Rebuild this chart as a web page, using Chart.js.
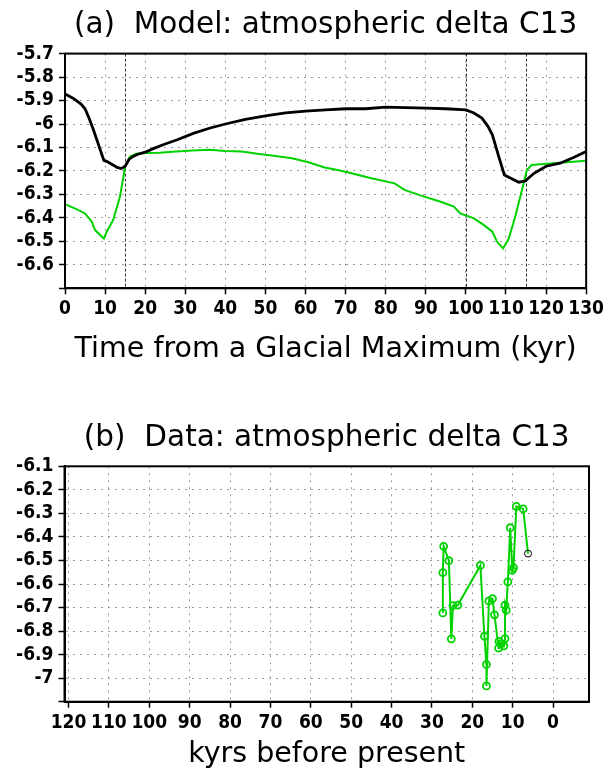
<!DOCTYPE html>
<html>
<head>
<meta charset="utf-8">
<script src="https://cdn.jsdelivr.net/npm/chart.js"></script>
<style>
  body { margin: 0; background: #fff; }
  .box { position: relative; width: 607px; height: 387px; }
</style>
</head>
<body>
<div class="box"><canvas id="modelChart"></canvas></div>
<div class="box"><canvas id="dataChart"></canvas></div>
<script>
// (a) model, time from a glacial maximum (kyr)
const blackTime = [0, 2, 4, 5, 6, 7, 8, 9, 9.7, 10.5, 12, 13, 14, 15, 16, 17, 18, 20, 22, 25, 28, 32, 36, 40, 45, 50, 55, 60, 65, 70, 75, 80, 85, 90, 95, 100, 102, 104, 105.5, 106.6, 108.2, 109.6, 110.7, 113.2, 114.8, 116, 117, 120, 123.5, 127, 130];
const blackDelta = [-5.872, -5.89, -5.915, -5.935, -5.975, -6.02, -6.07, -6.12, -6.155, -6.16, -6.175, -6.185, -6.19, -6.18, -6.15, -6.138, -6.13, -6.12, -6.105, -6.085, -6.067, -6.04, -6.018, -6.0, -5.98, -5.965, -5.953, -5.945, -5.94, -5.935, -5.935, -5.928, -5.93, -5.932, -5.935, -5.94, -5.953, -5.975, -6.01, -6.046, -6.139, -6.217, -6.227, -6.248, -6.243, -6.225, -6.21, -6.18, -6.167, -6.142, -6.117];
const greenTime = [0, 3, 5, 6.7, 7.5, 9.2, 9.7, 10.4, 12, 13.7, 15, 16.2, 17.8, 20.3, 23.6, 27.7, 31.8, 36, 40, 44, 48, 52.5, 56.6, 60.7, 64.8, 68, 70.7, 76.4, 82.2, 84.7, 88.8, 93.7, 97, 98.6, 102, 104.5, 106.6, 107.8, 109.3, 110.7, 112.3, 114, 115.2, 116.4, 119.3, 123.5, 130];
const greenDelta = [-6.342, -6.364, -6.381, -6.417, -6.452, -6.48, -6.488, -6.459, -6.41, -6.31, -6.182, -6.139, -6.127, -6.124, -6.122, -6.117, -6.113, -6.11, -6.115, -6.117, -6.127, -6.136, -6.146, -6.163, -6.185, -6.196, -6.207, -6.231, -6.253, -6.281, -6.305, -6.331, -6.352, -6.381, -6.402, -6.431, -6.459, -6.502, -6.53, -6.488, -6.395, -6.281, -6.196, -6.175, -6.17, -6.165, -6.157];
const eventTimes = [15, 100, 115];
const modelTimeTicks = [0, 10, 20, 30, 40, 50, 60, 70, 80, 90, 100, 110, 120, 130];
const modelDeltaTicks = [-6.7, -6.6, -6.5, -6.4, -6.3, -6.2, -6.1, -6.0, -5.9, -5.8, -5.7];

// (b) data, kyrs before present (last point drawn black)
const coreAge = [27.3, 27.3, 27.1, 25.8, 25.2, 24.8, 23.6, 18.0, 17.0, 16.5, 16.5, 15.9, 15.0, 14.5, 13.5, 13.4, 12.8, 12.2, 11.9, 11.9, 11.6, 11.2, 10.6, 10.1, 9.8, 9.1, 7.4, 6.2];
const coreDelta = [-6.723, -6.552, -6.44, -6.501, -6.833, -6.692, -6.69, -6.521, -6.822, -6.942, -7.033, -6.672, -6.662, -6.731, -6.872, -6.844, -6.853, -6.863, -6.832, -6.69, -6.711, -6.591, -6.361, -6.542, -6.531, -6.27, -6.281, -6.471];
const dataAgeTicks = [120, 110, 100, 90, 80, 70, 60, 50, 40, 30, 20, 10, 0];
const dataDeltaTicks = [-7.1, -7.0, -6.9, -6.8, -6.7, -6.6, -6.5, -6.4, -6.3, -6.2, -6.1];

const green = 'rgb(0, 210, 0)';
const tickFont = { family: "'DejaVu Sans Condensed', 'DejaVu Sans', sans-serif", size: 19, weight: 'bold' };
Chart.defaults.font.family = "'DejaVu Sans', sans-serif";
Chart.defaults.color = '#000';

const toXY = (xs, ys) => xs.map((x, i) => ({ x: x, y: ys[i] }));

const framePlugin = {
    id: 'frame',
    afterDraw(chart) {
        const { ctx, chartArea: a } = chart;
        ctx.save();
        ctx.strokeStyle = '#000';
        ctx.lineWidth = 2;
        ctx.strokeRect(a.left, a.top, a.right - a.left, a.bottom - a.top);
        ctx.restore();
    }
};

const eventLinePlugin = {
    id: 'eventLines',
    beforeDatasetsDraw(chart, args, opts) {
        const { ctx, chartArea: a } = chart;
        const xs = chart.scales.x;
        ctx.save();
        ctx.strokeStyle = '#333';
        ctx.lineWidth = 1;
        ctx.setLineDash([3, 2]);
        (opts.values || []).forEach(v => {
            const px = Math.round(xs.getPixelForValue(v)) + 0.5;
            ctx.beginPath();
            ctx.moveTo(px, a.top);
            ctx.lineTo(px, a.bottom);
            ctx.stroke();
        });
        ctx.restore();
    }
};

function yAxis(tickValues, width) {
    const min = Math.min(...tickValues);
    const max = Math.max(...tickValues);
    return {
        min: min,
        max: max,
        afterFit: scale => { scale.width = width; },
        afterBuildTicks: scale => { scale.ticks = tickValues.map(v => ({ value: v })); },
        ticks: {
            autoSkip: false,
            padding: 5,
            font: tickFont,
            color: '#000',
            callback: function(value) {
                if (Math.abs(value - min) < 1e-6) return '';
                return parseFloat(value.toFixed(1)).toString();
            }
        },
        grid: { color: '#999', lineWidth: 1, tickLength: 6, tickColor: '#000', tickWidth: 1.5 },
        border: { display: true, color: '#000', width: 2, dash: [2, 5] }
    };
}

function xAxis(tickValues, min, max, height, reverse, title, titlePad, tickPad) {
    return {
        type: 'linear',
        min: min,
        max: max,
        reverse: reverse,
        afterFit: scale => { scale.height = height; },
        afterBuildTicks: scale => { scale.ticks = tickValues.map(v => ({ value: v })); },
        ticks: {
            maxRotation: 0,
            autoSkip: false,
            padding: tickPad,
            font: tickFont,
            color: '#000',
            callback: value => String(value)
        },
        grid: { color: '#999', lineWidth: 1, tickLength: 6, tickColor: '#000', tickWidth: 1.5 },
        border: { display: true, color: '#000', width: 2, dash: [2, 5] },
        title: {
            display: true,
            text: title,
            color: '#000',
            font: { size: 28.5 },
            padding: { top: 0, bottom: titlePad }
        }
    };
}

new Chart(document.getElementById('modelChart').getContext('2d'), {
    type: 'line',
    data: {
        datasets: [{
            label: 'model black',
            data: toXY(blackTime, blackDelta),
            borderColor: '#000',
            borderWidth: 2.8,
            pointRadius: 0,
            tension: 0
        }, {
            label: 'model green',
            data: toXY(greenTime, greenDelta),
            borderColor: green,
            borderWidth: 2,
            pointRadius: 0,
            tension: 0
        }]
    },
    options: {
        responsive: true,
        maintainAspectRatio: false,
        animation: false,
        layout: { padding: { left: 0, right: 18, top: 0, bottom: 0 } },
        scales: {
            x: xAxis(modelTimeTicks, 0, 130, 98.7, false, 'Time from a Glacial Maximum (kyr)', 20.4, 3),
            y: yAxis(modelDeltaTicks, 65)
        },
        plugins: {
            legend: { display: false },
            tooltip: { enabled: false },
            title: {
                display: true,
                fullSize: false,
                text: '(a)  Model: atmospheric delta C13',
                color: '#000',
                font: { size: 29.5, weight: 'normal' },
                padding: { top: 7.6, bottom: 10.6 }
            },
            eventLines: { values: eventTimes }
        }
    },
    plugins: [framePlugin, eventLinePlugin]
});

new Chart(document.getElementById('dataChart').getContext('2d'), {
    type: 'line',
    data: {
        datasets: [{
            label: 'data',
            data: toXY(coreAge, coreDelta),
            borderColor: green,
            borderWidth: 2,
            pointRadius: 3.5,
            pointBackgroundColor: 'rgba(0,0,0,0)',
            pointBorderColor: ctx => ctx.dataIndex === coreAge.length - 1 ? '#000' : green,
            pointBorderWidth: ctx => ctx.dataIndex === coreAge.length - 1 ? 1 : 1.8,
            tension: 0
        }]
    },
    options: {
        responsive: true,
        maintainAspectRatio: false,
        animation: false,
        layout: { padding: { left: 0, right: 18, top: 0, bottom: 0 } },
        scales: {
            x: xAxis(dataAgeTicks, -8.9, 121, 72.3, true, 'kyrs before present', 2.3, 3.5),
            y: yAxis(dataDeltaTicks, 64.5)
        },
        plugins: {
            legend: { display: false },
            tooltip: { enabled: false },
            title: {
                display: true,
                fullSize: false,
                text: '(b)  Data: atmospheric delta C13',
                color: '#000',
                font: { size: 29.5, weight: 'normal' },
                padding: { top: 33.3, bottom: 10.6 }
            }
        }
    },
    plugins: [framePlugin]
});
</script>
</body>
</html>
